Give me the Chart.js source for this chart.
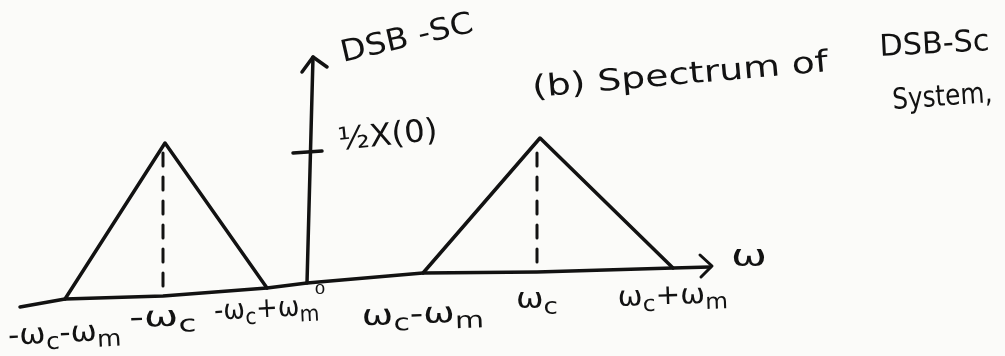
<!DOCTYPE html>
<html>
<head>
<meta charset="utf-8">
<title>DSB-SC spectrum</title>
<script src="https://cdn.jsdelivr.net/npm/chart.js@4.4.1/dist/chart.umd.min.js"></script>
<style>
  html, body { margin: 0; padding: 0; background: #fbfbf9; }
  #wrap { width: 1005px; height: 356px; }
</style>
</head>
<body>
<div id="wrap"><canvas id="c" width="1005" height="356"></canvas></div>
<script>
// Frequency axis (drawn by hand, so it rises slightly to the right)
const axisX = [-2.86, -2.41, -1.43, -0.39, 0.01, 1.17, 2.31, 3.67, 4.04];
const axisY = [-0.24, -0.16, -0.13, -0.05, 0.00, 0.10, 0.11, 0.15, 0.16];

// Lower sideband lobe centred on -wc, upper lobe centred on +wc
const lobeLowX = [-2.41, -1.41, -0.39];
const lobeLowY = [-0.16, 1.40, -0.05];
const lobeHighX = [1.17, 2.34, 3.67];
const lobeHighY = [0.10, 1.45, 0.15];

// Dashed carrier markers at -wc and +wc (top, bottom)
const carrierLowX = [-1.43, -1.43];
const carrierLowY = [1.30, -0.13];
const carrierHighX = [2.31, 2.31];
const carrierHighY = [1.30, 0.11];

// Amplitude axis and its tick at 1/2 X(0)
const ampAxisX = [0.01, 0.07];
const ampAxisY = [0.00, 2.26];
const halfX0 = 1.31;
const halfTickX = [-0.13, 0.16];
const halfTickY = [halfX0 - 0.01, halfX0 + 0.01];

// Arrow heads
const ampArrowX = [-0.04, 0.07, 0.21];
const ampArrowY = [2.11, 2.26, 2.16];
const freqArrowX = [3.94, 4.06, 3.95];
const freqArrowY = [0.28, 0.17, 0.06];

// Tick labels along the frequency axis
const freqTicks = [-2.41, -1.43, -0.39, 1.17, 2.31, 3.67];
const freqTickLabels = ['-ω_c-ω_m', '-ω_c', '-ω_c+ω_m', 'ω_c-ω_m', 'ω_c', 'ω_c+ω_m'];

const pts = (xs, ys) => xs.map((x, i) => ({ x, y: ys[i] }));

const ink = '#121212';
const line = (xs, ys, extra) => Object.assign({
  data: pts(xs, ys),
  showLine: true,
  borderColor: ink,
  backgroundColor: ink,
  borderWidth: 3.5,
  borderCapStyle: 'round',
  borderJoinStyle: 'round',
  pointRadius: 0,
  tension: 0,
  fill: false
}, extra || {});

// Layout of the labels (pixel baselines / widths / sizes)
const tickLayout = [
  { y: 342, w: 113, size: 29, rot: -3 },
  { y: 326, w: 67,  size: 29, rot: -2 },
  { y: 317, w: 105, size: 28, rot: -3 },
  { y: 323, w: 122, size: 29, rot: -2 },
  { y: 308, w: 42,  size: 29, rot: 0 },
  { y: 304, w: 110, size: 28, rot: -2 }
];

const notes = [
  { text: 'DSB -SC', x: 0.37, y: 2.21, w: 135, size: 30, rot: -13, align: 'left' },
  { text: '½X(0)', x: 0.33, y: 1.33, w: 100, size: 31, rot: -6, align: 'left' },
  { text: '(b) Spectrum of', x: 2.27, y: 1.86, w: 297, size: 30, rot: -5, align: 'left' },
  { text: 'DSB-Sc', x: 5.74, y: 2.27, w: 110, size: 30, rot: -3, align: 'left' },
  { text: 'System,', x: 5.87, y: 1.74, w: 100, size: 29, rot: -4, align: 'left' },
  { text: 'ω', x: 4.25, y: 0.17, w: 36, size: 30, rot: 0, align: 'left' },
  { text: '0', x: 0.14, y: -0.11, w: 11, size: 14, rot: 0, align: 'center' }
];

const FONT = '"DejaVu Sans", sans-serif';
const SUB = 0.8;

function parseRich(s) {
  const parts = [];
  for (let i = 0; i < s.length; i++) {
    if (s[i] === '_') { parts.push({ t: s[i + 1], sub: true }); i++; }
    else if (parts.length && !parts[parts.length - 1].sub) parts[parts.length - 1].t += s[i];
    else parts.push({ t: s[i], sub: false });
  }
  return parts;
}

function drawRich(ctx, s, px, py, size, width, rotDeg, align) {
  const parts = parseRich(s);
  let total = 0;
  parts.forEach(p => {
    ctx.font = (p.sub ? Math.round(size * SUB) : size) + 'px ' + FONT;
    p.w = ctx.measureText(p.t).width;
    total += p.w;
  });
  const sx = width ? width / total : 1;
  ctx.save();
  ctx.translate(px, py);
  ctx.rotate(rotDeg * Math.PI / 180);
  ctx.scale(sx, 1);
  let x = align === 'center' ? -total / 2 : 0;
  ctx.fillStyle = ink;
  ctx.textBaseline = 'alphabetic';
  ctx.textAlign = 'left';
  parts.forEach(p => {
    ctx.font = (p.sub ? Math.round(size * SUB) : size) + 'px ' + FONT;
    ctx.fillText(p.t, x, p.sub ? size * 0.22 : 0);
    x += p.w;
  });
  ctx.restore();
}

const paper = {
  id: 'paper',
  beforeDraw(chart) {
    const ctx = chart.ctx;
    ctx.save();
    ctx.fillStyle = '#fbfbf9';
    ctx.fillRect(0, 0, chart.width, chart.height);
    ctx.restore();
  }
};

const labels = {
  id: 'labels',
  afterDatasetsDraw(chart) {
    const ctx = chart.ctx;
    const xs = chart.scales.x, ys = chart.scales.y;
    freqTicks.forEach((f, i) => {
      const L = tickLayout[i];
      drawRich(ctx, freqTickLabels[i], xs.getPixelForValue(f), L.y, L.size, L.w, L.rot, 'center');
    });
    notes.forEach(n => {
      drawRich(ctx, n.text, xs.getPixelForValue(n.x), ys.getPixelForValue(n.y), n.size, n.w, n.rot, n.align);
    });
  }
};

new Chart(document.getElementById('c'), {
  type: 'scatter',
  data: {
    datasets: [
      line(axisX, axisY),
      line(ampAxisX, ampAxisY),
      line(ampArrowX, ampArrowY),
      line(freqArrowX, freqArrowY, { borderWidth: 3 }),
      line(halfTickX, halfTickY),
      line(lobeLowX, lobeLowY),
      line(lobeHighX, lobeHighY),
      line(carrierLowX, carrierLowY, { borderDash: [13, 11], borderWidth: 3 }),
      line(carrierHighX, carrierHighY, { borderDash: [13, 11], borderWidth: 3 })
    ]
  },
  options: {
    responsive: false,
    maintainAspectRatio: false,
    animation: false,
    devicePixelRatio: 1,
    layout: { padding: 0 },
    plugins: { legend: { display: false }, tooltip: { enabled: false } },
    scales: {
      x: { type: 'linear', min: -3.06, max: 6.99, display: false },
      y: { type: 'linear', min: -0.73, max: 2.83, display: false }
    }
  },
  plugins: [paper, labels]
});
</script>
</body>
</html>
